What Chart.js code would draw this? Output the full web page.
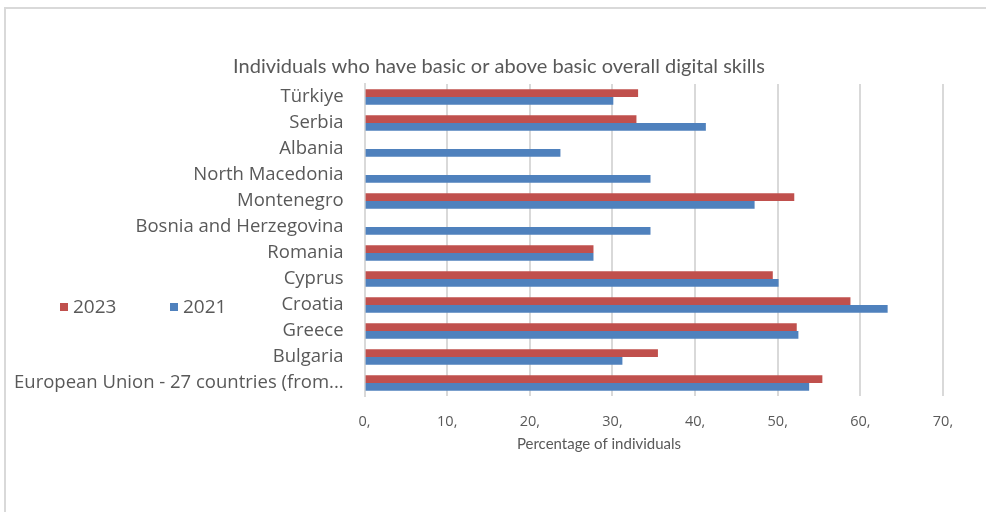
<!DOCTYPE html>
<html>
<head>
<meta charset="utf-8">
<script src="https://cdn.jsdelivr.net/npm/chart.js@4/dist/chart.umd.min.js"></script>
<style>
  html, body { margin: 0; padding: 0; background: #ffffff; }
  #wrap { width: 986px; height: 512px; }
</style>
</head>
<body>
<div id="wrap"><canvas id="chart" width="986" height="512"></canvas></div>
<script>
// Countries, top to bottom
const categories = [
  'Türkiye', 'Serbia', 'Albania', 'North Macedonia', 'Montenegro',
  'Bosnia and Herzegovina', 'Romania', 'Cyprus', 'Croatia', 'Greece',
  'Bulgaria', 'European Union - 27 countries (from...'
];
// Share of individuals with basic or above basic overall digital skills (%)
const values2023 = [33.1, 32.9, null, null, 52.0, null, 27.7, 49.4, 58.8, 52.3, 35.5, 55.4];
const values2021 = [30.1, 41.3, 23.7, 34.6, 47.2, 34.6, 27.7, 50.1, 63.3, 52.5, 31.2, 53.8];
const seriesNames = ['2023', '2021'];
const xTicks = [0, 10, 20, 30, 40, 50, 60, 70];
const chartTitle = 'Individuals who have basic or above basic overall digital skills';
const xAxisTitle = 'Percentage of individuals';

const RED = '#C0504D';
const BLUE = '#4F81BD';
const TEXT = '#595959';
const GRID = '#d9d9d9';

// White background with the light frame on the top and left edges
const framePlugin = {
  id: 'frame',
  beforeDraw(chart) {
    const ctx = chart.ctx;
    ctx.save();
    ctx.fillStyle = '#ffffff';
    ctx.fillRect(0, 0, chart.width, chart.height);
    ctx.strokeStyle = '#d9d9d9';
    ctx.lineWidth = 2;
    ctx.beginPath();
    ctx.moveTo(5, chart.height);
    ctx.lineTo(5, 8);
    ctx.lineTo(chart.width, 8);
    ctx.stroke();
    ctx.restore();
  }
};

// Title, horizontal legend left of the category labels,
// and the value-axis caption under the tick labels
const annotations = {
  id: 'annotations',
  afterDraw(chart) {
    const ctx = chart.ctx;
    ctx.save();
    ctx.fillStyle = TEXT;
    ctx.textBaseline = 'middle';
    ctx.textAlign = 'center';
    ctx.font = '20px Lato';
    ctx.fillText(chartTitle, 499, 67);

    const items = chart.data.datasets.map(d => ({ text: d.label, color: d.backgroundColor }));
    const xs = [60, 170];
    const y = 307;
    ctx.font = '19px "Open Sans"';
    ctx.textAlign = 'left';
    items.forEach((it, i) => {
      ctx.fillStyle = it.color;
      ctx.fillRect(xs[i], y - 4, 8, 8);
      ctx.fillStyle = TEXT;
      ctx.fillText(it.text, xs[i] + 13, y + 1);
    });

    ctx.font = '15px Lato';
    ctx.textAlign = 'center';
    ctx.fillText(xAxisTitle, 599, 444);
    ctx.restore();
  }
};

new Chart(document.getElementById('chart'), {
  type: 'bar',
  data: {
    labels: categories,
    datasets: [
      { label: seriesNames[0], data: values2023, backgroundColor: RED },
      { label: seriesNames[1], data: values2021, backgroundColor: BLUE }
    ]
  },
  options: {
    indexAxis: 'y',
    responsive: false,
    animation: false,
    events: [],
    layout: { padding: { left: 0, right: 43, top: 84, bottom: 56 } },
    datasets: { bar: { barPercentage: 1.0, categoryPercentage: 0.6 } },
    plugins: {
      legend: { display: false },
      tooltip: { enabled: false },
      title: { display: false }
    },
    scales: {
      x: {
        type: 'linear',
        min: 0,
        max: 70,
        afterBuildTicks(scale) { scale.ticks = xTicks.map(v => ({ value: v })); },
        afterFit(scale) { scale.height = 60; },
        grid: { color: GRID, lineWidth: 2, drawTicks: false },
        border: { display: false },
        ticks: {
          color: TEXT,
          font: { family: 'Open Sans', size: 14.5 },
          padding: 17,
          callback: v => v + ','
        }
      },
      y: {
        afterFit(scale) { scale.width = 364.6; },
        grid: { display: false, drawTicks: false },
        border: { display: true, color: GRID, width: 2 },
        ticks: {
          color: TEXT,
          font: { family: 'Open Sans', size: 18.5 },
          padding: 21,
          autoSkip: false
        }
      }
    }
  },
  plugins: [framePlugin, annotations]
});
</script>
</body>
</html>
